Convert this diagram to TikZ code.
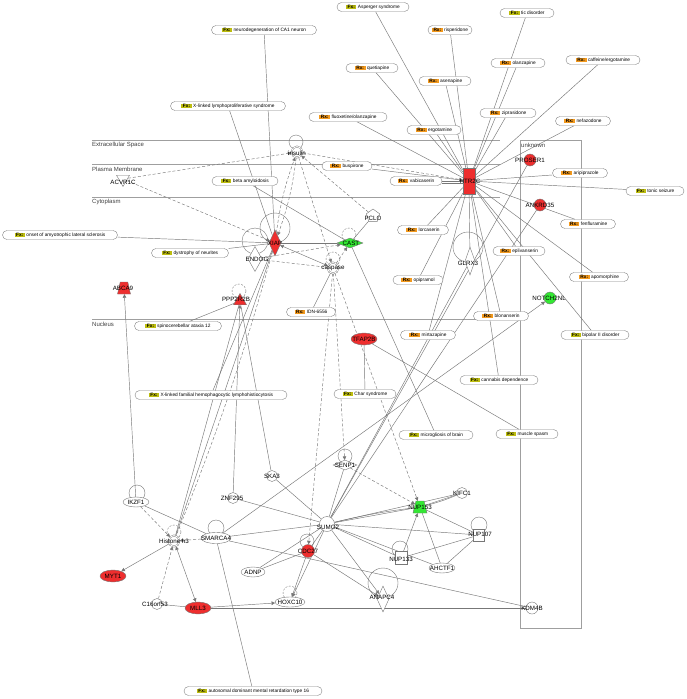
\documentclass[tikz,border=0pt]{standalone}
\usepackage{fontspec}
\setmainfont{Liberation Sans}
\usetikzlibrary{shapes.geometric,arrows.meta,backgrounds}
\definecolor{fxc}{HTML}{BDBD10}
\definecolor{rxc}{HTML}{F39A1E}
\definecolor{nred}{HTML}{EE2E2E}
\definecolor{ngreen}{HTML}{33E833}
\definecolor{lc}{HTML}{777777}
\newcommand{\FX}{{\setlength{\fboxsep}{0.5pt}\colorbox{fxc}{\hspace{1pt}\bfseries Fx:\hspace{1pt}}}\hspace{1.5pt}}
\newcommand{\RX}{{\setlength{\fboxsep}{0.5pt}\colorbox{rxc}{\hspace{1pt}\bfseries Rx:\hspace{1pt}}}\hspace{1.5pt}}
\tikzset{
 lab/.style={draw=lc!90, fill=white, rounded corners=4.5pt, minimum height=9pt, inner sep=1.2pt, font=\fontsize{4.8}{5}\selectfont, line width=0.4pt},
 mol/.style={draw=lc, fill=white, inner sep=0pt, line width=0.4pt},
 trap/.style={mol, trapezium, trapezium left angle=70, trapezium right angle=70, trapezium stretches=true, inner sep=1pt},
 mtxt/.style={font=\fontsize{6.2}{7}\selectfont, inner sep=0pt},
 ed/.style={draw=lc, line width=0.45pt},
 de/.style={ed, dash pattern=on 3pt off 2pt},
 ar/.style={-{Triangle[length=3.5pt,width=3.5pt]}},
 ra/.style={{Triangle[length=3.5pt,width=3.5pt]}-{Triangle[length=3.5pt,width=3.5pt]}},
 lp/.style={draw=lc, line width=0.4pt},
 lpd/.style={lp, dash pattern=on 2pt off 1.5pt},
 cl/.style={draw=gray!75, line width=0.5pt},
 comp/.style={font=\fontsize{6}{7}\selectfont, anchor=west, inner sep=0pt, text=black!75},
}
\begin{document}
\begin{tikzpicture}[x=1pt,y=-1pt]
\useasboundingbox (0,0) rectangle (687,699);

% ---------- labels (functions / drugs) ----------
\node[lab, minimum width=72pt]  (asp)   at (373,7)   {\FX Asperger syndrome};
\node[lab, minimum width=54pt]  (tic)   at (527,13)  {\FX tic disorder};
\node[lab, minimum width=44pt]  (risp)  at (450,30)  {\RX risperidone};
\node[lab, minimum width=105pt] (neuro) at (264,30)  {\FX neurodegeneration of CA1 neuron};
\node[lab, minimum width=52pt]  (quet)  at (372,68)  {\RX quetiapine};
\node[lab, minimum width=52pt]  (asen)  at (445,81)  {\RX asenapine};
\node[lab, minimum width=54pt]  (olan)  at (518,63)  {\RX olanzapine};
\node[lab, minimum width=74pt]  (caff)  at (603,60)  {\RX caffeine/ergotamine};
\node[lab, minimum width=115pt] (xlps)  at (228,106) {\FX X-linked lymphoproliferative syndrome};
\node[lab, minimum width=78pt]  (flx)   at (348,117) {\RX fluoxetine/olanzapine};
\node[lab, minimum width=56pt]  (zip)   at (508,113) {\RX ziprasidone};
\node[lab, minimum width=54pt]  (ergo)  at (434,130) {\RX ergotamine};
\node[lab, minimum width=55pt]  (nefa)  at (583,121) {\RX nefazodone};
\node[lab, minimum width=50pt]  (busp)  at (347,166) {\RX buspirone};
\node[lab, minimum width=52pt]  (vabi)  at (416,181) {\RX vabicaserin};
\node[lab, minimum width=66pt]  (beta)  at (245,181) {\FX beta amyloidosis};
\node[lab, minimum width=55pt]  (arip)  at (580,173) {\RX aripiprazole};
\node[lab, minimum width=58pt]  (tonic) at (655,191) {\FX tonic seizure};
\node[lab, minimum width=55pt]  (fenf)  at (588,224) {\RX fenfluramine};
\node[lab, minimum width=115pt] (als)   at (60,235)  {\FX onset of amyotrophic lateral sclerosis};
\node[lab, minimum width=51pt]  (lorc)  at (423,230) {\RX lorcaserin};
\node[lab, minimum width=77pt]  (dyst)  at (190,253) {\FX dystrophy of neurites};
\node[lab, minimum width=52pt]  (epli)  at (519,251) {\RX eplivanserin};
\node[lab, minimum width=50pt]  (opip)  at (418,280) {\RX opipramol};
\node[lab, minimum width=59pt]  (apom)  at (599,277) {\RX apomorphine};
\node[lab, minimum width=49pt]  (idn)   at (311,312) {\RX IDN-6556};
\node[lab, minimum width=55pt]  (blon)  at (501,316) {\RX blonanserin};
\node[lab, minimum width=87pt]  (sca)   at (178,326) {\FX spinocerebellar ataxia 12};
\node[lab, minimum width=55pt]  (mirt)  at (428,335) {\RX mirtazapine};
\node[lab, minimum width=68pt]  (bip)   at (595,335) {\FX bipolar II disorder};
\node[lab, minimum width=78pt]  (cann)  at (499,380) {\FX cannabis dependence};
\node[lab, minimum width=152pt] (xlhlh) at (211,395) {\FX X-linked familial hemophagocytic lymphohistiocytosis};
\node[lab, minimum width=62pt]  (char)  at (365,394) {\FX Char syndrome};
\node[lab, minimum width=74pt]  (micro) at (436,435) {\FX microgliosis of brain};
\node[lab, minimum width=62pt]  (spasm) at (527,434) {\FX muscle spasm};
\node[lab, minimum width=138pt] (auto)  at (253,691) {\FX autosomal dominant mental retardation type 16};

% ---------- molecules ----------
\node[mol, circle, double, double distance=0.8pt, minimum size=11pt] (insulin) at (297,152) {};
\node[mol, regular polygon, regular polygon sides=3, shape border rotate=180, minimum size=15pt] (acvr) at (123,179) {};
\node[mol, diamond, minimum width=14pt, minimum height=25pt] (endog) at (255,259) {};
\node[mol, diamond, fill=nred, minimum width=12pt, minimum height=26pt] (xiap) at (275,243) {};
\node[mol, diamond, fill=ngreen, minimum width=26pt, minimum height=10pt] (cast) at (350,243) {};
\node[mol, circle, double, double distance=0.8pt, minimum size=11pt] (caspase) at (333,268) {};
\node[mol, regular polygon, regular polygon sides=5, minimum size=14pt] (pclo) at (373,216) {};
\node[mol, rectangle, fill=nred, minimum width=12pt, minimum height=26pt] (htr) at (469,181) {};
\node[mol, circle, fill=nred, minimum size=12pt] (proser) at (530,160) {};
\node[mol, circle, fill=nred, minimum size=12pt] (ankrd) at (540,205) {};
\node[mol, diamond, minimum width=10pt, minimum height=28pt] (glrx) at (470,261) {};
\node[mol, circle, fill=ngreen, minimum size=12pt] (notch) at (550,298) {};
\node[trap, fill=nred, minimum width=13pt, minimum height=12pt] (abca) at (124,288) {};
\node[mol, regular polygon, regular polygon sides=3, fill=nred, minimum size=15pt] (ppp) at (240,301) {};
\node[mol, ellipse, fill=nred, minimum width=26pt, minimum height=12pt] (tfap) at (364,339) {};
\node[mol, diamond, minimum width=24pt, minimum height=10pt] (senp) at (345,465) {};
\node[mol, ellipse, minimum width=26pt, minimum height=10pt] (ikzf) at (136,502) {};
\node[mol, circle, minimum size=11pt] (ska3) at (272,476) {};
\node[mol, circle, minimum size=11pt] (znf) at (233,498) {};
\node[mol, circle, double, double distance=0.8pt, minimum size=11pt] (h3) at (174,541) {};
\node[mol, ellipse, minimum width=30pt, minimum height=11pt] (smarca) at (216,538) {};
\node[mol, circle, minimum size=15pt] (sumo) at (327,524) {};
\node[mol, circle, fill=nred, minimum size=13pt] (cdc) at (308,551) {};
\node[mol, ellipse, minimum width=24pt, minimum height=10pt] (adnp) at (253,572) {};
\node[mol, ellipse, minimum width=30pt, minimum height=10pt] (hoxc) at (290,602) {};
\node[mol, ellipse, fill=nred, minimum width=26pt, minimum height=12pt] (myt1) at (113,576) {};
\node[mol, circle, minimum size=11pt] (c16) at (157,604) {};
\node[mol, ellipse, fill=nred, minimum width=26pt, minimum height=12pt] (mll3) at (198,608) {};
\node[trap, fill=ngreen, minimum width=14pt, minimum height=12pt] (nup153) at (420,507) {};
\node[mol, circle, minimum size=11pt] (kifc) at (462,493) {};
\node[mol, rectangle, minimum width=11pt, minimum height=12pt] (nup107) at (479,535) {};
\node[mol, rectangle, minimum width=12pt, minimum height=13pt] (nup133) at (401,558) {};
\node[mol, ellipse, minimum width=26pt, minimum height=10pt] (ahctf) at (442,568) {};
\node[mol, diamond, minimum width=12pt, minimum height=26pt] (anapc) at (383,599) {};
\node[mol, circle, minimum size=12pt] (kdm) at (532,608) {};

% ---------- molecule texts ----------
\node[mtxt] (insulin-t) at (297,153) {insulin};
\node[mtxt] (acvr-t) at (123,182) {ACVR1C};
\node[mtxt] (endog-t) at (257,259) {ENDOG};
\node[mtxt] (xiap-t) at (275,243) {XIAP};
\node[mtxt] (cast-t) at (351,243) {CAST};
\node[mtxt] (caspase-t) at (333,268) {caspase};
\node[mtxt] (pclo-t) at (373,218) {PCLO};
\node[mtxt] (htr-t) at (470,181) {HTR2C};
\node[mtxt] (proser-t) at (530,160) {PROSER1};
\node[mtxt] (ankrd-t) at (540,205) {ANKRD35};
\node[mtxt] (glrx-t) at (468,263) {GLRX3};
\node[mtxt] (notch-t) at (549,298) {NOTCH2NL};
\node[mtxt] (abca-t) at (123,288) {ABCA9};
\node[mtxt] (ppp-t) at (236,299) {PPP2R2B};
\node[mtxt] (tfap-t) at (364,339) {TFAP2B};
\node[mtxt] (senp-t) at (345,465) {SENP1};
\node[mtxt] (ikzf-t) at (136,502) {IKZF1};
\node[mtxt] (ska3-t) at (272,476) {SKA3};
\node[mtxt] (znf-t) at (232,498) {ZNF295};
\node[mtxt] (h3-t) at (174,541) {Histone h3};
\node[mtxt] (smarca-t) at (216,538) {SMARCA4};
\node[mtxt] (sumo-t) at (328,527) {SUMO2};
\node[mtxt] (cdc-t) at (308,551) {CDC27};
\node[mtxt] (adnp-t) at (253,572) {ADNP};
\node[mtxt] (hoxc-t) at (290,602) {HOXC10};
\node[mtxt] (myt1-t) at (113,576) {MYT1};
\node[mtxt] (c16-t) at (155,604) {C16orf53};
\node[mtxt] (mll3-t) at (198,608) {MLL3};
\node[mtxt] (nup153-t) at (420,507) {NUP153};
\node[mtxt] (kifc-t) at (462,493) {KIFC1};
\node[mtxt] (nup107-t) at (480,534) {NUP107};
\node[mtxt] (nup133-t) at (401,559) {NUP133};
\node[mtxt] (ahctf-t) at (442,568) {AHCTF1};
\node[mtxt] (anapc-t) at (382,597) {ANAPC4};
\node[mtxt] (kdm-t) at (532,608) {KDM4B};

% ---------- compartments ----------
\node[comp] (c-ext) at (92,145) {Extracellular Space};
\node[comp] (c-pm) at (92,169) {Plasma Membrane};
\node[comp] (c-cyt) at (92,202) {Cytoplasm};
\node[comp] (c-nuc) at (92,324) {Nucleus};
\node[comp] (c-unk) at (521,145) {unknown};

\begin{scope}[on background layer]
\fill[white] (0,0) rectangle (687,699);
\draw[cl] (92,140) -- (500,140);
\draw[cl] (92,164) -- (500,164);
\draw[cl] (92,197) -- (500,197);
\draw[cl] (92,319) -- (500,319);
\draw[cl] (520,140) rectangle (581,628);

% loops
\draw[lp] (296,142) circle (7);
\draw[lp] (275,228) circle (15);
\draw[lp] (255,241) circle (13);
\draw[lpd] (349,235) circle (7);
\draw[lpd] (333,259) circle (7);
\draw[lp] (468,247) circle (15);
\draw[lpd] (239,291) circle (7);
\draw[lp] (345,456) circle (7);
\draw[lp] (137,493) circle (8);
\draw[lpd] (174,532) circle (7);
\draw[lp] (216,528) circle (8);
\draw[lp] (307,541) circle (7);
\draw[lpd] (290,593) circle (7);
\draw[lp] (479,525) circle (8);
\draw[lp] (400,549) circle (8);
\draw[lp] (383,583) circle (15);

% HTR2C hub
\foreach \t in {asp,tic,risp,quet,asen,olan,caff,flx,zip,ergo,nefa,busp,vabi,arip,tonic,fenf,lorc,opip,epli,apom,mirt,blon,bip,cann,glrx}
  \draw[ed] (htr) -- (\t);
\draw[ed] ([yshift=-2pt]htr.west) -- ([yshift=-2pt]vabi.east);

% XIAP / insulin cluster
\draw[de,ar] (acvr) -- (insulin);
\draw[de,ar] (acvr) -- (xiap);
\draw[de,ar] (xiap) to[bend left=6] (insulin);
\draw[de,ar] (insulin) to[bend left=6] (xiap);
\draw[de,ar] (pclo) -- (insulin);
\draw[de,ar] (insulin) -- (htr);
\draw[de,ar] (insulin) -- (caspase);
\draw[ed] (xiap) -- (cast);
\draw[ed,ra] (xiap) -- (caspase);
\draw[de,ar] (endog) -- (cast);
\draw[de] (endog) -- (caspase);
\draw[de,ar] (caspase) -- (cast);
\draw[ed] (pclo) -- (cast);
\draw[ed] (beta) -- (cast);
\draw[ed] (xlps) -- (xiap);
\draw[ed] (neuro) -- (xiap);
\draw[ed] (als) -- (xiap);
\draw[ed] (dyst) -- (xiap);
\draw[ed] (xlhlh) -- (xiap);
\draw[ed] (caspase) -- (idn);
\draw[ed] (cast) -- (micro);
\draw[ed] (ppp) -- (sca);
\draw[ed] (ppp) -- (ska3);
\draw[ed,ar] (znf) -- (ppp);
\draw[ed] (ppp) -- (h3);
\draw[ed] (xiap) -- (h3);
\draw[de] (xiap) to[bend left=3] (h3);

% nucleus
\draw[ed,ar] (ikzf) -- (abca);
\draw[de,ar] (ikzf) -- (h3);
\draw[ed] (ikzf) -- (smarca);
\draw[de,ar] (smarca) -- (h3);
\draw[ed,ar] (h3) -- (myt1);
\draw[ed,ra] (h3) -- (mll3);
\draw[de,ar] (c16) -- (h3);
\draw[ed] (c16) -- (mll3);
\draw[ed,ar] (mll3) -- (hoxc);
\draw[ed] (mll3) -- (kdm);
\draw[ed,ar] (smarca) -- (notch);
\draw[ed] (smarca) -- (sumo);
\draw[ed] (smarca) -- (auto);
\draw[ed] (smarca) -- (kdm);
\draw[ed] (sumo) -- (ska3);
\draw[ed] (sumo) -- (znf);
\draw[ed] (sumo) -- (adnp);
\draw[ed] (sumo) -- (cdc);
\draw[ed,ar] (sumo) -- (hoxc);
\draw[ed,ar] (cdc) -- (hoxc);
\draw[ed] (adnp) -- (cdc);
\draw[ed,ar] (cdc) -- (anapc);
\draw[ed,ar] (sumo) -- (anapc);
\draw[ed] (sumo) -- (nup153);
\draw[ed] (sumo) to[bend left=3] (nup153);
\draw[ed] (sumo) -- (nup107);
\draw[ed] (sumo) -- (nup133);
\draw[ed] (sumo) -- (ahctf);
\draw[ed] (sumo) -- (kifc);
\draw[ed] (sumo) -- (senp);
\draw[ed] (sumo) -- (glrx);
\draw[ed] (sumo) -- (proser);
\draw[ed] (sumo) -- (ankrd);
\draw[ed,ar] (nup133) -- (nup153);
\draw[de,ar] (senp) -- (nup153);
\draw[de,ar] (caspase) -- (nup153);
\draw[de,ar] (caspase) -- (cdc);
\draw[de,ar] (caspase) -- (senp);
\draw[ed] (kifc) -- (nup153);
\draw[ed] (kifc) to[bend left=4] (nup153);
\draw[ed] (ahctf) -- (nup153);
\draw[ed] (nup153) -- (nup107);
\draw[ed] (ahctf) -- (nup107);
\draw[ed] (nup133) -- (nup107);
\draw[ed] (tfap) -- (char);
\draw[ed] (tfap) -- (spasm);
\end{scope}
\end{tikzpicture}
\end{document}
